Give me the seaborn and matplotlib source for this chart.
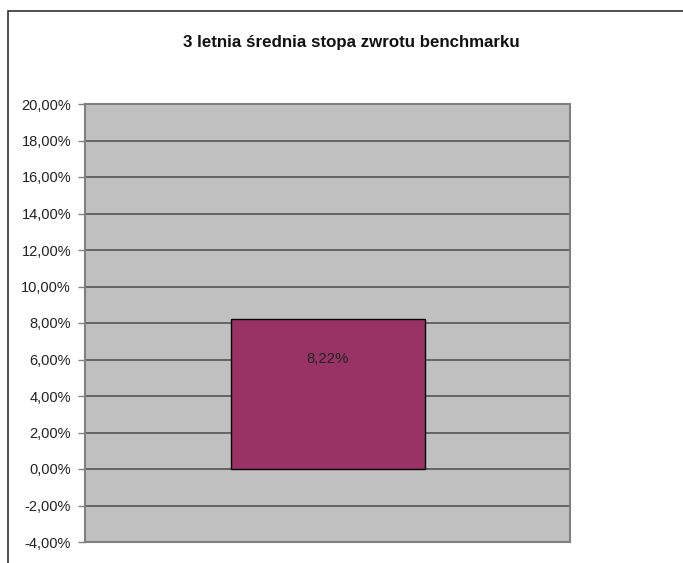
import matplotlib
matplotlib.use('Agg')
import matplotlib.pyplot as plt
import seaborn as sns
import pandas as pd
from matplotlib.patches import Rectangle
from matplotlib.ticker import FuncFormatter

categories = ['benchmark']
values = [8.22]
y_ticks = [-4, -2, 0, 2, 4, 6, 8, 10, 12, 14, 16, 18, 20]

sns.set_style('white')
plt.rcParams['font.family'] = ['Liberation Sans', 'DejaVu Sans']

df = pd.DataFrame({'kategoria': categories, 'stopa': values})

fig = plt.figure(figsize=(6.83, 5.63), dpi=100)
ax = fig.add_axes([85 / 683, 21 / 563, 485 / 683, 438 / 563])
ax.set_facecolor('#C0C0C0')

sns.barplot(data=df, x='kategoria', y='stopa', color='#993366', width=0.4,
            edgecolor='black', linewidth=1, saturation=1, ax=ax, zorder=3)

ax.set_ylim(-4, 20)
ax.set_xlim(-0.5, 0.5)
ax.set_yticks(y_ticks)
ax.yaxis.set_major_formatter(FuncFormatter(lambda v, p: f'{v:.2f}%'.replace('.', ',')))
ax.tick_params(axis='y', length=5, width=1, color='#808080', labelsize=10.5,
               labelcolor='#222222', pad=5, left=True)
ax.set_xticks([])
ax.set_xlabel('')
ax.set_ylabel('')

for t in y_ticks[1:-1]:
    ax.axhline(t, color='#555555', linewidth=1.2, zorder=1)

for side in ax.spines.values():
    side.set_visible(True)
    side.set_color('#808080')
    side.set_linewidth(1.5)

for bar, v in zip(ax.patches, values):
    ax.text(bar.get_x() + bar.get_width() / 2, v - 2.2, f'{v:.2f}%'.replace('.', ','),
            ha='center', va='center', fontsize=10.8, color='#222222', zorder=4)

fig.text(351 / 683, 1 - 43 / 563, '3 letnia średnia stopa zwrotu benchmarku',
         ha='center', va='center', fontsize=12.2, fontweight='bold', color='#111111')

fig.add_artist(Rectangle((8 / 683, -0.2), 1.2, 0.2 + (563 - 11) / 563,
                         transform=fig.transFigure, fill=False,
                         edgecolor='#333333', linewidth=1.2))

fig.savefig('out.png', dpi=100)
